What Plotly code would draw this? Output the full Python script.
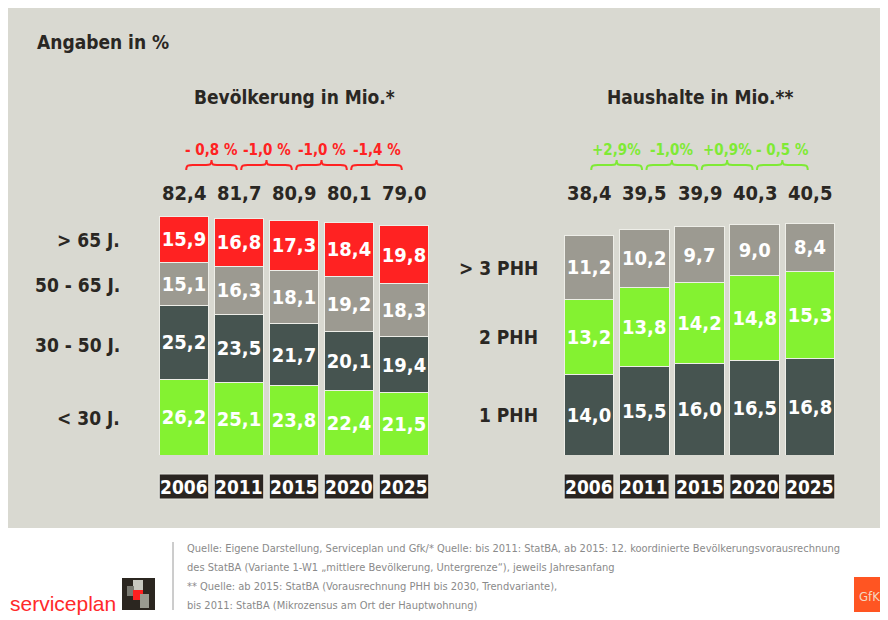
import plotly.graph_objects as go

# ---------------- data ----------------
years = ["2006", "2011", "2015", "2020", "2025"]

pop_labels = ["< 30 J.", "30 - 50 J.", "50 - 65 J.", "> 65 J."]
pop_lt30 = [26.2, 25.1, 23.8, 22.4, 21.5]
pop_30_50 = [25.2, 23.5, 21.7, 20.1, 19.4]
pop_50_65 = [15.1, 16.3, 18.1, 19.2, 18.3]
pop_gt65 = [15.9, 16.8, 17.3, 18.4, 19.8]
pop_total = [82.4, 81.7, 80.9, 80.1, 79.0]
pop_change = ["- 0,8 %", "-1,0 %", "-1,0 %", "-1,4 %"]

hh_labels = ["1 PHH", "2 PHH", "> 3 PHH"]
hh_1 = [14.0, 15.5, 16.0, 16.5, 16.8]
hh_2 = [13.2, 13.8, 14.2, 14.8, 15.3]
hh_3 = [11.2, 10.2, 9.7, 9.0, 8.4]
hh_total = [38.4, 39.5, 39.9, 40.3, 40.5]
hh_change = ["+2,9%", "-1,0%", "+0,9%", "- 0,5 %"]

footer_lines = [
    "Quelle: Eigene Darstellung, Serviceplan und Gfk/* Quelle: bis 2011: StatBA, ab 2015: 12. koordinierte Bevölkerungsvorausrechnung",
    "des StatBA (Variante 1-W1 „mittlere Bevölkerung, Untergrenze“), jeweils Jahresanfang",
    "** Quelle: ab 2015: StatBA (Vorausrechnung PHH bis 2030, Trendvariante),",
    "bis 2011: StatBA (Mikrozensus am Ort der Hauptwohnung)",
]

# ---------------- styling ----------------
OFF = 8            # page body margin in the browser
W, H = 880, 612    # figure size so that it fits the 888x620 window
FONT = "DejaVu Sans Condensed, DejaVu Sans, sans-serif"
RED = "#ff2222"
GREY = "#9c9a91"
DARK = "#465450"
GREEN = "#84f231"
TXT = "#2a2723"
BG = "#d9d9d1"
EDGE = "#eeeee8"


def px(x):
    """page pixel x -> paper fraction"""
    return max(0.0, min(1.0, (x - OFF) / W))


def py(y):
    """page pixel y -> paper fraction"""
    return max(0.0, min(1.0, 1 - (y - OFF) / H))


def de(v):
    return f"{v:.1f}".replace(".", ",")


idx = list(range(len(years)))
BASE = 455  # page pixel row of the zero line
left_scale = 2.9  # px per unit
right_scale = 5.72

fig = go.Figure()


def add_stack(values_list, colors, xa, ya):
    for vals, col in zip(values_list, colors):
        fig.add_trace(go.Bar(
            x=idx, y=vals, width=0.9, xaxis=xa, yaxis=ya,
            marker=dict(color=col, line=dict(color=EDGE, width=1)),
            text=[de(v) for v in vals], textposition="inside",
            insidetextanchor="middle", textangle=0, constraintext="none",
            textfont=dict(family=FONT, size=20, color="white", weight="bold"),
            hoverinfo="skip", showlegend=False,
        ))


add_stack([pop_lt30, pop_30_50, pop_50_65, pop_gt65], [GREEN, DARK, GREY, RED], "x", "y")
add_stack([hh_1, hh_2, hh_3], [DARK, GREEN, GREY], "x2", "y2")

ydom = [py(BASE), 1]
top_px = OFF  # top of figure in page px
ax_common = dict(showgrid=False, zeroline=False, showticklabels=False, showline=False, fixedrange=True)
fig.update_layout(
    width=W, height=H, margin=dict(l=0, r=0, t=0, b=0),
    paper_bgcolor="white", plot_bgcolor="rgba(0,0,0,0)", barmode="stack",
    xaxis=dict(domain=[px(156.5), px(431.5)], range=[-0.5, 4.5], **ax_common),
    yaxis=dict(domain=ydom, range=[0, (BASE - top_px) / left_scale], **ax_common),
    xaxis2=dict(domain=[px(561.4), px(837.6)], range=[-0.5, 4.5], anchor="y2", **ax_common),
    yaxis2=dict(domain=ydom, range=[0, (BASE - top_px) / right_scale], anchor="x2", **ax_common),
    font=dict(family=FONT, color=TXT),
)

shapes = []
ann = []

# background panel
shapes.append(dict(type="rect", xref="paper", yref="paper", x0=px(7), x1=1, y0=py(528), y1=py(4),
                   fillcolor=BG, line=dict(width=0), layer="below"))

# titles
ann.append(dict(text="Angaben in %", xref="paper", yref="paper", x=px(35), y=py(42), xanchor="left",
                yanchor="middle", showarrow=False, font=dict(size=19, color=TXT, weight="bold")))
ann.append(dict(text="Bevölkerung in Mio.*", xref="x", yref="paper", x=2, y=py(97), xanchor="center",
                yanchor="middle", showarrow=False, font=dict(size=19, color=TXT, weight="bold")))
ann.append(dict(text="Haushalte in Mio.**", xref="x2", yref="paper", x=2, y=py(97), xanchor="center",
                yanchor="middle", showarrow=False, font=dict(size=19, color=TXT, weight="bold")))

# totals, year boxes, changes + braces
for xr, totals, changes, col in [("x", pop_total, pop_change, RED), ("x2", hh_total, hh_change, "#7fea35")]:
    for i, t in enumerate(totals):
        ann.append(dict(text=de(t), xref=xr, yref="paper", x=i, y=py(193), xanchor="center", yanchor="middle",
                        showarrow=False, font=dict(size=20, color=TXT, weight="bold")))
        shapes.append(dict(type="rect", xref=xr, yref="paper", x0=i - 0.45, x1=i + 0.45, y0=py(499), y1=py(474),
                           fillcolor="#2a2521", line=dict(color="#e6e6e0", width=1)))
        ann.append(dict(text=years[i], xref=xr, yref="paper", x=i, y=py(487), xanchor="center", yanchor="middle",
                        showarrow=False, font=dict(size=19, color="white", weight="bold")))
    for i, c in enumerate(changes):
        ann.append(dict(text=c, xref=xr, yref="paper", x=i + 0.5, y=py(150), xanchor="center", yanchor="middle",
                        showarrow=False, font=dict(size=15, color=col, weight="bold")))
        x0, x1, xm = i + 0.04, i + 0.96, i + 0.5
        yb, ym, yt = py(170), py(165), py(160)
        path = (f"M {x0},{yb} C {x0},{ym} {x0+0.04},{ym} {x0+0.12},{ym} "
                f"L {xm-0.1},{ym} C {xm-0.03},{ym} {xm},{ym} {xm},{yt} "
                f"C {xm},{ym} {xm+0.03},{ym} {xm+0.1},{ym} "
                f"L {x1-0.12},{ym} C {x1-0.04},{ym} {x1},{ym} {x1},{yb}")
        shapes.append(dict(type="path", xref=xr, yref="paper", path=path, line=dict(color=col, width=2)))

# row labels
for lab, yy in zip(pop_labels, [418, 345, 285, 240]):
    ann.append(dict(text=lab, xref="paper", yref="paper", x=px(122), y=py(yy), xanchor="right", yanchor="middle",
                    showarrow=False, font=dict(size=19, color=TXT, weight="bold")))
for lab, yy in zip(hh_labels, [415, 337, 268]):
    ann.append(dict(text=lab, xref="paper", yref="paper", x=px(540), y=py(yy), xanchor="right", yanchor="middle",
                    showarrow=False, font=dict(size=19, color=TXT, weight="bold")))

# footer
shapes.append(dict(type="line", xref="paper", yref="paper", x0=px(173), x1=px(173), y0=py(542), y1=py(610),
                   line=dict(color="#9a9a9a", width=1)))
for line, yy in zip(footer_lines, [548, 567, 586, 605]):
    ann.append(dict(text=line, xref="paper", yref="paper", x=px(185), y=py(yy), xanchor="left", yanchor="middle",
                    showarrow=False, font=dict(size=11, color="#8a8a8a")))

ann.append(dict(text="serviceplan", xref="paper", yref="paper", x=px(6), y=py(603), xanchor="left",
                yanchor="middle", showarrow=False,
                font=dict(family="Liberation Sans Narrow, Liberation Sans, sans-serif", size=21, color="#ff2a2a")))
# serviceplan logo square
shapes.append(dict(type="rect", xref="paper", yref="paper", x0=px(122), x1=px(155), y0=py(610), y1=py(578),
                   fillcolor="#2b2620", line=dict(width=0)))
for (a, b, c, d, f) in [(133, 143, 580, 590, "#c8c8c0"), (127, 134, 586, 596, "#7a7a72"),
                        (133, 143, 590, 600, "#ff2020"), (140, 149, 594, 608, "#9a9a90")]:
    shapes.append(dict(type="rect", xref="paper", yref="paper", x0=px(a), x1=px(b), y0=py(d), y1=py(c),
                       fillcolor=f, line=dict(width=0)))
# GfK logo
shapes.append(dict(type="rect", xref="paper", yref="paper", x0=px(854), x1=px(885), y0=py(612), y1=py(577),
                   fillcolor="#ff5522", line=dict(width=0)))
ann.append(dict(text="GfK", xref="paper", yref="paper", x=px(869), y=py(596), xanchor="center", yanchor="middle",
                showarrow=False, font=dict(size=13, color="#f5d8c0")))

fig.update_layout(shapes=shapes, annotations=ann)
fig.write_html("out.html")
